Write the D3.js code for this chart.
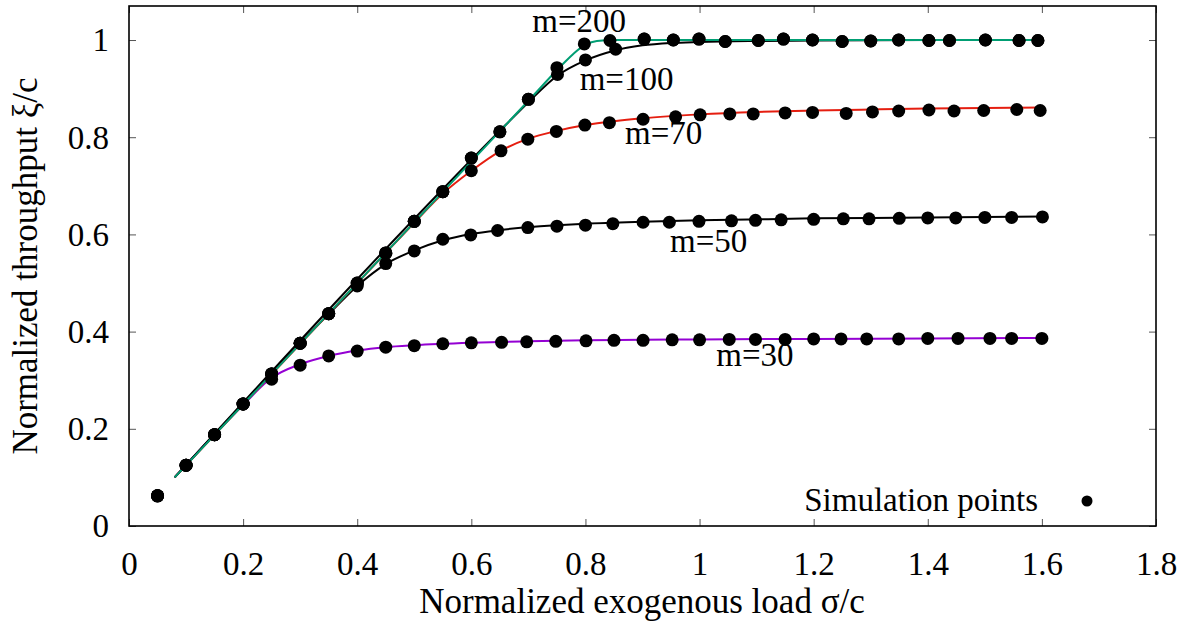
<!DOCTYPE html>
<html>
<head>
<meta charset="utf-8">
<script src="https://cdn.jsdelivr.net/npm/d3@7"></script>
<style>
  html, body { margin: 0; padding: 0; background: #fff; }
</style>
</head>
<body>
<svg id="chart" width="1191" height="625" style="font-family: 'Liberation Serif', 'Times New Roman', Times, 'DejaVu Serif', serif;"></svg>
<script>
// ---------- data ----------
const xTicks = [0, 0.2, 0.4, 0.6, 0.8, 1, 1.2, 1.4, 1.6, 1.8];
const yTicks = [0, 0.2, 0.4, 0.6, 0.8, 1];

const seriesNames = ["m=30", "m=50", "m=70", "m=100", "m=200"];
const seriesColors = ["#9400d3", "#000000", "#e51e10", "#000000", "#009e73"];

// analytical curves
const curve30x = [0.08,0.20,0.25,0.30,0.35,0.40,0.45,0.50,0.60,0.70,0.80,0.90,1.00,1.20,1.40,1.60];
const curve30y = [0.10,0.249,0.305,0.333,0.350,0.361,0.368,0.372,0.377,0.380,0.382,0.383,0.384,0.385,0.386,0.387];
const curve50x = [0.08,0.35,0.40,0.45,0.50,0.55,0.60,0.65,0.70,0.75,0.80,0.90,1.00,1.10,1.20,1.30,1.40,1.50,1.60];
const curve50y = [0.10,0.436,0.494,0.539,0.567,0.588,0.601,0.609,0.615,0.619,0.622,0.626,0.629,0.631,0.633,0.634,0.635,0.636,0.637];
const curve70x = [0.08,0.45,0.50,0.55,0.60,0.65,0.70,0.75,0.80,0.85,0.90,1.00,1.10,1.20,1.30,1.40,1.50,1.60];
const curve70y = [0.10,0.562,0.624,0.684,0.731,0.771,0.797,0.813,0.825,0.833,0.839,0.847,0.852,0.855,0.857,0.859,0.860,0.861];
const curve100x = [0.08,0.66,0.70,0.75,0.80,0.85,0.90,0.95,1.00,1.10,1.20,1.40,1.60];
const curve100y = [0.10,0.825,0.872,0.926,0.958,0.978,0.989,0.994,0.996,0.998,0.999,1.000,1.000];
const curve200x = [0.08,0.70,0.76,0.78,0.80,0.82,0.85,1.00,1.60];
const curve200y = [0.10,0.875,0.950,0.973,0.990,0.998,1.000,1.000,1.000];

// simulation points
const sim30x = [0.05,0.10,0.15,0.20,0.25,0.30,0.35,0.40,0.45,0.50,0.55,0.60,0.653,0.697,0.748,0.801,0.850,0.901,0.952,1.000,1.052,1.098,1.150,1.200,1.248,1.293,1.349,1.400,1.453,1.509,1.547,1.600];
const sim30y = [0.062,0.125,0.188,0.251,0.302,0.331,0.350,0.360,0.368,0.371,0.375,0.377,0.378,0.379,0.380,0.381,0.382,0.382,0.383,0.383,0.384,0.384,0.384,0.385,0.385,0.385,0.385,0.386,0.386,0.386,0.386,0.386];
const sim50x = [0.05,0.10,0.15,0.20,0.25,0.30,0.35,0.40,0.45,0.50,0.55,0.599,0.646,0.699,0.750,0.800,0.848,0.901,0.947,0.999,1.056,1.098,1.143,1.200,1.252,1.297,1.350,1.400,1.449,1.500,1.547,1.601];
const sim50y = [0.062,0.125,0.188,0.251,0.313,0.376,0.437,0.494,0.540,0.566,0.590,0.599,0.608,0.614,0.617,0.619,0.622,0.625,0.625,0.627,0.628,0.629,0.630,0.631,0.632,0.632,0.633,0.634,0.634,0.635,0.635,0.636];
const sim70x = [0.05,0.10,0.15,0.20,0.25,0.30,0.35,0.40,0.45,0.50,0.55,0.60,0.652,0.699,0.749,0.799,0.842,0.901,0.958,1.001,1.053,1.094,1.150,1.198,1.257,1.303,1.349,1.402,1.446,1.498,1.556,1.597];
const sim70y = [0.062,0.125,0.188,0.251,0.313,0.376,0.437,0.498,0.561,0.627,0.688,0.731,0.772,0.796,0.812,0.825,0.830,0.837,0.842,0.846,0.848,0.848,0.850,0.851,0.849,0.852,0.854,0.856,0.854,0.855,0.857,0.855];
const sim100x = [0.05,0.10,0.15,0.20,0.25,0.30,0.35,0.40,0.45,0.50,0.55,0.60,0.65,0.70,0.751,0.800,0.853,0.903,0.954,0.999,1.045,1.103,1.147,1.198,1.250,1.300,1.349,1.402,1.438,1.501,1.560,1.593];
const sim100y = [0.062,0.125,0.188,0.251,0.313,0.376,0.437,0.500,0.562,0.627,0.688,0.757,0.811,0.878,0.929,0.959,0.981,1.002,1.000,1.002,0.997,0.999,1.002,1.000,0.997,0.998,1.000,0.999,0.999,1.000,0.999,0.999];
const sim200x = [0.05,0.10,0.15,0.20,0.25,0.30,0.35,0.40,0.45,0.50,0.55,0.60,0.65,0.70,0.75,0.798,0.843,0.903,0.954,0.999,1.045,1.103,1.147,1.198,1.250,1.300,1.349,1.402,1.438,1.501,1.560,1.593];
const sim200y = [0.062,0.125,0.188,0.251,0.313,0.376,0.437,0.500,0.562,0.627,0.688,0.757,0.811,0.878,0.943,0.992,0.999,1.002,1.000,1.002,0.997,0.999,1.002,1.000,0.997,0.998,1.000,0.999,0.999,1.000,0.999,0.999];

// label text for each curve and its anchor in data units
const labelText = ["m=30", "m=50", "m=70", "m=100", "m=200"];
const labelX = [1.097, 1.016, 0.937, 0.872, 0.789];
const labelY = [0.329, 0.563, 0.786, 0.898, 1.016];

const xTitle = "Normalized exogenous load σ/c";
const yTitle = "Normalized throughput ξ/c";
const legendText = "Simulation points";

// ---------- drawing ----------
const FONT = "'Liberation Serif', 'Times New Roman', Times, 'DejaVu Serif', serif";
const svg = d3.select("#chart");
const L = 129, R = 1156, T = 6, B = 526;
const FS = 33;

const x = d3.scaleLinear().domain([0, 1.8]).range([L, R]);
const y = d3.scaleLinear().domain([0, 1.07]).range([B, T]);

const zip = (xs, ys) => xs.map((v, i) => [v, ys[i]]);
const curves = [
  zip(curve30x, curve30y), zip(curve50x, curve50y), zip(curve70x, curve70y),
  zip(curve100x, curve100y), zip(curve200x, curve200y)
];
const sims = [
  zip(sim30x, sim30y), zip(sim50x, sim50y), zip(sim70x, sim70y),
  zip(sim100x, sim100y), zip(sim200x, sim200y)
];

function txt(sel, size) {
  const s = size || FS;
  return sel.attr("font-family", FONT).style("font-family", FONT)
    .attr("font-size", s).style("font-size", s + "px").attr("fill", "#000");
}

// axes (gnuplot style: inward ticks, mirrored)
function styleAxis(g) {
  g.attr("font-family", FONT);
  g.select(".domain").remove();
  g.selectAll(".tick line").attr("stroke", "#555").attr("stroke-width", 1);
  txt(g.selectAll(".tick text"));
}

const gx = svg.append("g").attr("transform", `translate(0,${B})`)
  .call(d3.axisBottom(x).tickValues(xTicks).tickFormat(d3.format("~g")).tickSize(-7));
styleAxis(gx);
gx.selectAll(".tick text").attr("y", 49).attr("dy", 0);

const gxt = svg.append("g").attr("transform", `translate(0,${T})`)
  .call(d3.axisTop(x).tickValues(xTicks).tickFormat("").tickSize(-7));
styleAxis(gxt);

const gy = svg.append("g").attr("transform", `translate(${L},0)`)
  .call(d3.axisLeft(y).tickValues(yTicks).tickFormat(d3.format("~g")).tickSize(-7));
styleAxis(gy);
gy.selectAll(".tick text").attr("x", -20).attr("dy", "0.33em");

const gyr = svg.append("g").attr("transform", `translate(${R},0)`)
  .call(d3.axisRight(y).tickValues(yTicks).tickFormat("").tickSize(-7));
styleAxis(gyr);

// frame
svg.append("rect").attr("x", L).attr("y", T).attr("width", R - L).attr("height", B - T)
  .attr("fill", "none").attr("stroke", "#000").attr("stroke-width", 1.6);

// curves
const line = d3.line().x(d => x(d[0])).y(d => y(d[1])).curve(d3.curveMonotoneX);
svg.append("g").selectAll("path").data(curves).join("path")
  .attr("d", line)
  .attr("fill", "none")
  .attr("stroke", (d, i) => seriesColors[i])
  .attr("stroke-width", 2);

// simulation points
sims.forEach(pts => {
  svg.append("g").selectAll("circle").data(pts).join("circle")
    .attr("cx", d => x(d[0])).attr("cy", d => y(d[1])).attr("r", 6.5).attr("fill", "#000");
});

// curve labels
txt(svg.append("g").selectAll("text").data(labelText).join("text")
  .attr("x", (d, i) => x(labelX[i])).attr("y", (d, i) => y(labelY[i]))
  .attr("text-anchor", "middle")
  .text(d => d));

// legend
txt(svg.append("text").attr("x", 1038).attr("y", 511).attr("text-anchor", "end").text(legendText));
svg.append("circle").attr("cx", 1087).attr("cy", 501).attr("r", 5.5).attr("fill", "#000");

// axis titles
txt(svg.append("text").attr("x", 642).attr("y", 613).attr("text-anchor", "middle").text(xTitle), 35);
txt(svg.append("text").attr("transform", `translate(37,${(T + B) / 2}) rotate(-90)`)
  .attr("text-anchor", "middle").text(yTitle), 35);
</script>
</body>
</html>
